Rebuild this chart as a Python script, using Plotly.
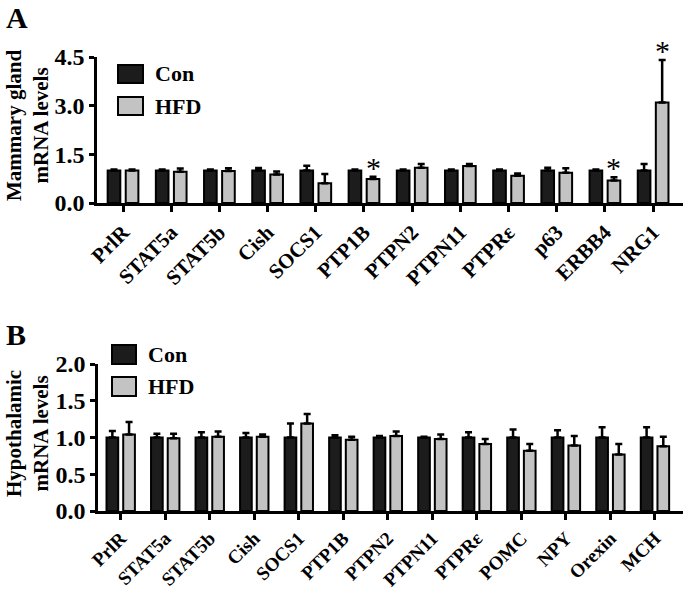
import plotly.graph_objects as go

# ---------------- data ----------------
genes_a = ["PrlR", "STAT5a", "STAT5b", "Cish", "SOCS1", "PTP1B", "PTPN2",
           "PTPN11", "PTPRε", "p63", "ERBB4", "NRG1"]
con_a = [1.0, 1.0, 1.0, 1.0, 1.0, 1.0, 1.0, 1.0, 1.0, 1.0, 1.0, 1.0]
con_a_err = [0.03, 0.03, 0.03, 0.08, 0.15, 0.03, 0.03, 0.03, 0.03, 0.09, 0.03, 0.2]
hfd_a = [1.0, 0.96, 0.99, 0.88, 0.61, 0.74, 1.09, 1.14, 0.84, 0.93, 0.69, 3.1]
hfd_a_err = [0.03, 0.1, 0.08, 0.09, 0.28, 0.07, 0.11, 0.06, 0.07, 0.14, 0.1, 1.31]
sig_a = ["PTP1B", "ERBB4", "NRG1"]

genes_b = ["PrlR", "STAT5a", "STAT5b", "Cish", "SOCS1", "PTP1B", "PTPN2",
           "PTPN11", "PTPRε", "POMC", "NPY", "Orexin", "MCH"]
con_b = [1.0, 1.0, 1.0, 1.0, 1.0, 1.0, 1.0, 1.0, 1.0, 1.0, 1.0, 1.0, 1.0]
con_b_err = [0.09, 0.05, 0.07, 0.06, 0.19, 0.03, 0.02, 0.01, 0.07, 0.11, 0.1, 0.14, 0.14]
hfd_b = [1.04, 0.99, 1.01, 1.01, 1.19, 0.97, 1.02, 0.98, 0.91, 0.82, 0.89, 0.77, 0.88]
hfd_b_err = [0.17, 0.06, 0.07, 0.03, 0.13, 0.04, 0.06, 0.06, 0.07, 0.09, 0.13, 0.14, 0.13]

series_names = ["Con", "HFD"]
ticks_a = [0.0, 1.5, 3.0, 4.5]
ticks_b = [0.0, 0.5, 1.0, 1.5, 2.0]

# ---------------- style ----------------
W, H = 685, 589
FONT = "Liberation Serif"
CON_COL = "#1c1c1c"
HFD_COL = "#c3c3c3"
BARGAP = 0.25
BARGROUPGAP = 0.3


def px_x(p):
    return p / W


def px_y(p):
    return 1 - p / H


fig = go.Figure()


def add_panel(genes, con, con_err, hfd, hfd_err, xa, ya):
    for name, vals, errs, col in [("Con", con, con_err, CON_COL),
                                  ("HFD", hfd, hfd_err, HFD_COL)]:
        fig.add_trace(go.Bar(
            x=genes, y=vals, name=name, showlegend=False,
            xaxis=xa, yaxis=ya,
            marker=dict(color=col, line=dict(color="black", width=2)),
            error_y=dict(type="data", array=errs, arrayminus=[0] * len(errs),
                         symmetric=False, color="black", thickness=2.5, width=3.5),
        ))


add_panel(genes_a, con_a, con_a_err, hfd_a, hfd_a_err, "x", "y")
add_panel(genes_b, con_b, con_b_err, hfd_b, hfd_b_err, "x2", "y2")

axis_common = dict(showline=True, linecolor="black", linewidth=2.5, ticks="outside",
                   tickcolor="black", tickwidth=2.5, showgrid=False, zeroline=False,
                   automargin=False)

fig.update_layout(
    width=W, height=H, margin=dict(l=0, r=0, t=0, b=0, autoexpand=False),
    paper_bgcolor="white", plot_bgcolor="white",
    barmode="group", bargap=BARGAP, bargroupgap=BARGROUPGAP,
    showlegend=False,
    font=dict(family=FONT, color="black"),
    xaxis=dict(domain=[px_x(97), px_x(683)], anchor="y", type="category",
               range=[-0.54, 11.62], tickangle=-45, ticklen=6,
               tickfont=dict(family=FONT, size=21, weight="bold", color="black"),
               **axis_common),
    yaxis=dict(domain=[px_y(203), px_y(57)], anchor="x", range=[0, 4.5],
               tickvals=ticks_a, tickformat=".1f", ticklen=5,
               tickfont=dict(family=FONT, size=24, weight="bold", color="black"),
               **axis_common),
    xaxis2=dict(domain=[px_x(98), px_x(683)], anchor="y2", type="category",
                range=[-0.51, 12.63], tickangle=-45, ticklen=6,
                tickfont=dict(family=FONT, size=19, weight="bold", color="black"),
                **axis_common),
    yaxis2=dict(domain=[px_y(511), px_y(364)], anchor="x2", range=[0, 2.0],
                tickvals=ticks_b, tickformat=".1f", ticklen=5,
                tickfont=dict(family=FONT, size=24, weight="bold", color="black"),
                **axis_common),
)

# significance stars above HFD bars
offset = (1 - BARGAP) / 4
for g in sig_a:
    i = genes_a.index(g)
    fig.add_annotation(x=i + offset, y=hfd_a[i] + hfd_a_err[i], xref="x", yref="y",
                       text="*", showarrow=False, yanchor="bottom", yshift=-9,
                       font=dict(family=FONT, size=30, color="black"))

# panel letters
fig.add_annotation(x=px_x(4), y=px_y(18), xref="paper", yref="paper", text="<b>A</b>",
                   showarrow=False, xanchor="left", yanchor="middle",
                   font=dict(family=FONT, size=30, color="black"))
fig.add_annotation(x=px_x(4), y=px_y(334), xref="paper", yref="paper", text="<b>B</b>",
                   showarrow=False, xanchor="left", yanchor="middle",
                   font=dict(family=FONT, size=30, color="black"))

# y-axis titles
fig.add_annotation(x=px_x(27), y=px_y(126), xref="paper", yref="paper",
                   text="<b>Mammary gland<br>mRNA levels</b>", textangle=-90,
                   showarrow=False, xanchor="center", yanchor="middle",
                   font=dict(family=FONT, size=21, color="black"))
fig.add_annotation(x=px_x(27), y=px_y(434), xref="paper", yref="paper",
                   text="<b>Hypothalamic<br>mRNA levels</b>", textangle=-90,
                   showarrow=False, xanchor="center", yanchor="middle",
                   font=dict(family=FONT, size=21, color="black"))


# custom legends (large swatches)
def legend(x0, sw_w, rows, text_x):
    for (y0, y1), name, col in zip(rows, series_names, [CON_COL, HFD_COL]):
        fig.add_shape(type="rect", xref="paper", yref="paper",
                      x0=px_x(x0), x1=px_x(x0 + sw_w), y0=px_y(y1), y1=px_y(y0),
                      fillcolor=col, line=dict(color="black", width=2))
        fig.add_annotation(x=px_x(text_x), y=px_y((y0 + y1) / 2), xref="paper", yref="paper",
                           text=f"<b>{name}</b>", showarrow=False, xanchor="left",
                           yanchor="middle", font=dict(family=FONT, size=22, color="black"))


legend(118, 25, [(65, 83), (97, 115)], 153)
legend(112, 24, [(345, 364), (377, 396)], 146)

fig.write_html("out.html", config={"displayModeBar": False},
               post_script="document.body.style.margin='0';document.body.style.padding='0';")
